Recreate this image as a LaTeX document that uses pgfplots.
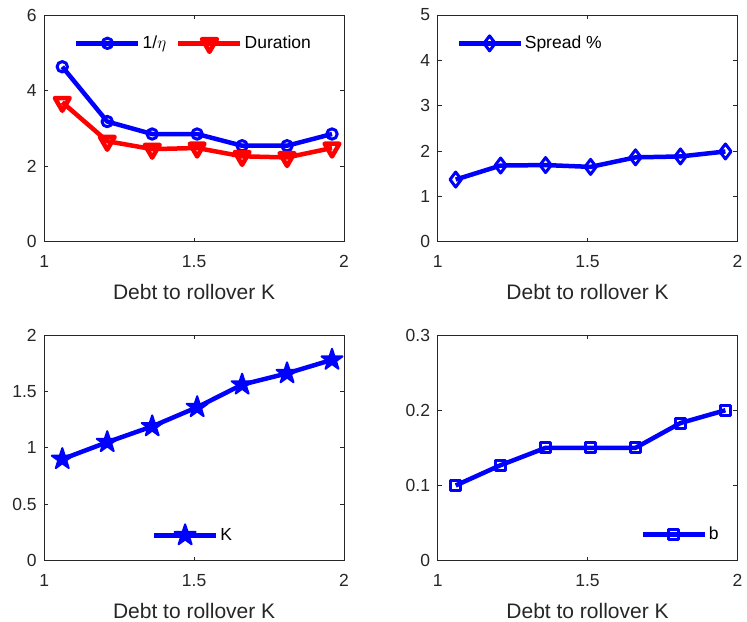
\documentclass[border=0pt]{standalone}
\usepackage{fontspec}
\setmainfont{Liberation Sans}
\usepackage{pgfplots}
\pgfplotsset{compat=1.18}
\definecolor{axgray}{HTML}{262626}
\pgfdeclareplotmark{pentagram}{%
  \pgfpathmoveto{\pgfpointpolar{90}{\pgfplotmarksize}}%
  \pgfpathlineto{\pgfpointpolar{126}{0.382\pgfplotmarksize}}%
  \pgfpathlineto{\pgfpointpolar{162}{\pgfplotmarksize}}%
  \pgfpathlineto{\pgfpointpolar{198}{0.382\pgfplotmarksize}}%
  \pgfpathlineto{\pgfpointpolar{234}{\pgfplotmarksize}}%
  \pgfpathlineto{\pgfpointpolar{270}{0.382\pgfplotmarksize}}%
  \pgfpathlineto{\pgfpointpolar{306}{\pgfplotmarksize}}%
  \pgfpathlineto{\pgfpointpolar{342}{0.382\pgfplotmarksize}}%
  \pgfpathlineto{\pgfpointpolar{18}{\pgfplotmarksize}}%
  \pgfpathlineto{\pgfpointpolar{54}{0.382\pgfplotmarksize}}%
  \pgfpathclose
  \pgfusepathqfillstroke}
\pgfplotsset{
  myax/.style={
    scale only axis, width=299.7bp,
    xmin=1, xmax=2, xtick={1,1.5,2},
    /pgf/number format/assume math mode=true,
    tick label style={font=\fontsize{17.5bp}{20bp}\selectfont, text=axgray},
    xticklabel style={anchor=center, yshift=-20bp},
    yticklabel style={anchor=east, inner sep=0pt, xshift=-7.5bp},
    label style={font=\fontsize{21bp}{24bp}\selectfont, text=axgray},
    xlabel={Debt to rollover K},
    xlabel style={at={(axis description cs:0.5,0)}, anchor=center, yshift=-50bp},
    axis line style={draw=axgray, line width=0.8bp},
    every tick/.style={draw=axgray, line width=0.8bp},
    major tick length=4bp,
    tick align=inside,
    legend style={draw=none, fill=none, font=\fontsize{17.5bp}{20bp}\selectfont,
      /tikz/every even column/.append style={column sep=8bp},
      nodes={inner sep=2bp}},
    legend image code/.code={\draw[mark repeat=2,mark phase=2] plot coordinates {(0bp,0bp)(31bp,0bp)(62bp,0bp)};},
  },
  myplot/.style={line width=4.5bp, line join=round, mark options={solid, line width=3bp}},
}
\begin{document}
\begin{tikzpicture}
\path[use as bounding box] (0,0) rectangle (747bp,622bp);
% top left
\begin{axis}[myax, at={(44.3bp,380.3bp)}, anchor=south west, height=226.7bp,
  ymin=0, ymax=6, ytick={0,2,4,6},
  legend columns=2,
  legend style={at={(0.498,0.875)}, anchor=center}]
\addplot[blue, myplot, mark=o, mark size=5.2bp] coordinates {
 (1.06,4.63) (1.21,3.18) (1.36,2.85) (1.51,2.85) (1.66,2.54) (1.81,2.54) (1.96,2.85)};
\addlegendentry{1/$\eta$}
\addplot[red, myplot, mark=triangle, mark size=8.5bp, mark options={rotate=180}] coordinates {
 (1.06,3.69) (1.21,2.66) (1.36,2.45) (1.51,2.48) (1.66,2.26) (1.81,2.23) (1.96,2.48)};
\addlegendentry{Duration}
\end{axis}
% top right
\begin{axis}[myax, at={(437.7bp,380.3bp)}, anchor=south west, height=226.7bp,
  ymin=0, ymax=5, ytick={0,1,2,3,4,5},
  legend style={at={(0.308,0.875)}, anchor=center}]
\addplot[blue, myplot, mark=diamond, mark size=7.5bp] coordinates {
 (1.06,1.37) (1.21,1.68) (1.36,1.69) (1.51,1.65) (1.66,1.86) (1.81,1.88) (1.96,1.99)};
\addlegendentry{Spread \%}
\end{axis}
% bottom left
\begin{axis}[myax, at={(44.3bp,61.3bp)}, anchor=south west, height=225.7bp,
  ymin=0, ymax=2, ytick={0,0.5,1,1.5,2},
  legend style={at={(0.496,0.117)}, anchor=center}]
\addplot[blue, myplot, mark=pentagram, mark size=11bp, mark options={fill=blue, line width=2bp}] coordinates {
 (1.06,0.90) (1.21,1.05) (1.36,1.19) (1.51,1.36) (1.66,1.56) (1.81,1.66) (1.96,1.78)};
\addlegendentry{K}
\end{axis}
% bottom right
\begin{axis}[myax, at={(437.7bp,61.3bp)}, anchor=south west, height=225.7bp,
  ymin=0, ymax=0.3, ytick={0,0.1,0.2,0.3},
  legend style={at={(0.81,0.117)}, anchor=center}]
\addplot[blue, myplot, mark=square, mark size=5bp] coordinates {
 (1.06,0.100) (1.21,0.127) (1.36,0.150) (1.51,0.150) (1.66,0.150) (1.81,0.183) (1.96,0.200)};
\addlegendentry{b}
\end{axis}
\end{tikzpicture}
\end{document}
